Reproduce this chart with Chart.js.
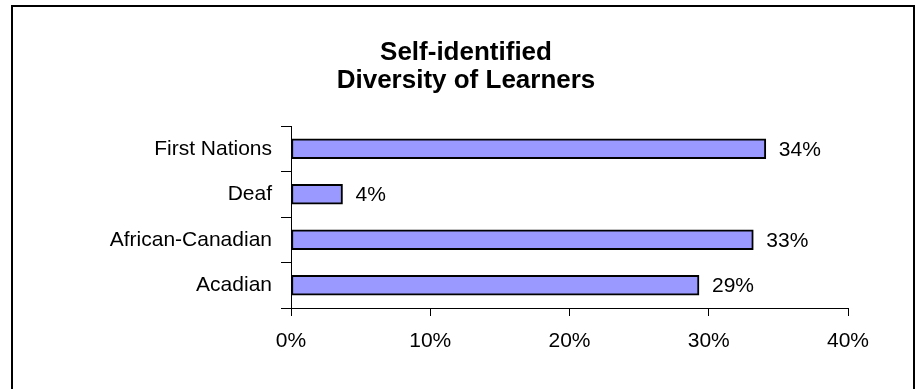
<!DOCTYPE html>
<html>
<head>
<meta charset="utf-8">
<script src="https://cdn.jsdelivr.net/npm/chart.js@4/dist/chart.umd.min.js"></script>
<style>
  html, body { margin: 0; padding: 0; background: #fff; }
  #wrap { position: absolute; left: 0; top: 0; width: 917px; height: 389px; }
</style>
</head>
<body>
<div id="wrap"><canvas id="chart" width="917" height="389"></canvas></div>
<script>
// Learner groups, top to bottom
const categories = ['First Nations', 'Deaf', 'African-Canadian', 'Acadian'];
// Share of learners per group, in percent
const shares = [34.1, 3.7, 33.2, 29.3];
// Shown value labels
const valueLabels = ['34%', '4%', '33%', '29%'];
// Horizontal axis ticks, in percent
const axisTicks = [0, 10, 20, 30, 40];
// Two-line heading
const titleLines = ['Self-identified', 'Diversity of Learners'];

const FONT = '"Liberation Sans", Arial, sans-serif';

// Outer frame round the whole chart (its bottom edge runs past the canvas)
const framePlugin = {
  id: 'frame',
  beforeDraw(chart) {
    const ctx = chart.ctx;
    ctx.save();
    ctx.strokeStyle = '#000';
    ctx.lineWidth = 2;
    ctx.strokeRect(12, 6, 902, 420);
    ctx.restore();
  }
};

// Heading, centred on the frame rather than on the plot area
const headingPlugin = {
  id: 'heading',
  afterDraw(chart) {
    const ctx = chart.ctx;
    ctx.save();
    ctx.font = 'bold 26px ' + FONT;
    ctx.fillStyle = '#000';
    ctx.textAlign = 'center';
    ctx.textBaseline = 'middle';
    titleLines.forEach((line, i) => ctx.fillText(line, 466, 53 + i * 28));
    ctx.restore();
  }
};

// Value text to the right of each bar
const valueLabelPlugin = {
  id: 'valueLabels',
  afterDatasetsDraw(chart) {
    const ctx = chart.ctx;
    const meta = chart.getDatasetMeta(0);
    ctx.save();
    ctx.font = '21px ' + FONT;
    ctx.fillStyle = '#000';
    ctx.textAlign = 'left';
    ctx.textBaseline = 'middle';
    meta.data.forEach((bar, i) => {
      ctx.fillText(valueLabels[i], bar.x + 13, bar.y + 1);
    });
    ctx.restore();
  }
};

new Chart(document.getElementById('chart'), {
  type: 'bar',
  data: {
    labels: categories,
    datasets: [{
      data: shares,
      backgroundColor: '#9999FF',
      borderColor: '#000',
      borderWidth: 2,
      borderSkipped: false,
      barThickness: 20
    }]
  },
  options: {
    indexAxis: 'y',
    responsive: false,
    animation: false,
    devicePixelRatio: 1,
    layout: { padding: { left: 0, right: 69, top: 126, bottom: 0 } },
    plugins: {
      legend: { display: false },
      tooltip: { enabled: false },
      title: { display: false }
    },
    scales: {
      x: {
        type: 'linear',
        min: 0,
        max: 40,
        afterBuildTicks(scale) {
          scale.ticks = axisTicks.map(v => ({ value: v }));
        },
        afterFit(scale) { scale.height = 81; },
        border: { display: true, color: '#000', width: 1 },
        grid: {
          drawOnChartArea: false,
          drawTicks: true,
          tickLength: 8,
          color: '#000'
        },
        ticks: {
          color: '#000',
          font: { family: FONT, size: 21 },
          padding: 13,
          maxRotation: 0,
          callback: v => v + '%'
        }
      },
      y: {
        type: 'category',
        offset: true,
        afterFit(scale) { scale.width = 291; },
        border: { display: true, color: '#000', width: 1 },
        grid: {
          offset: true,
          drawOnChartArea: false,
          drawTicks: true,
          tickLength: 10,
          color: '#000'
        },
        ticks: {
          color: '#000',
          font: { family: FONT, size: 21 },
          padding: 9
        }
      }
    }
  },
  plugins: [framePlugin, headingPlugin, valueLabelPlugin]
});
</script>
</body>
</html>
